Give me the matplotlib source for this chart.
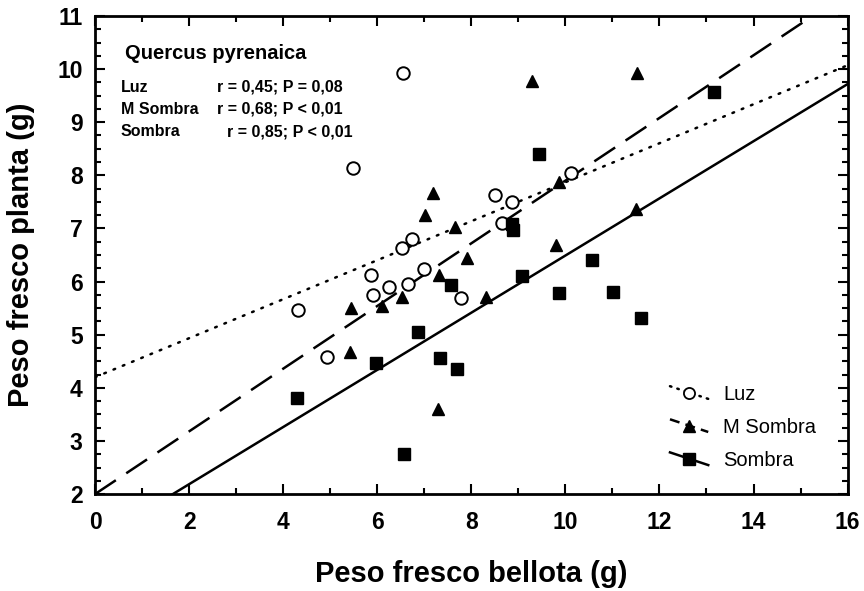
import numpy as np
import matplotlib
matplotlib.use("Agg")
import matplotlib.pyplot as plt
from matplotlib.legend_handler import HandlerLine2D
from matplotlib.ticker import MultipleLocator

plt.rcParams["font.family"] = ["Liberation Sans", "DejaVu Sans"]

# Luz (open circles)
luz_x = [4.31, 4.94, 5.48, 5.87, 5.92, 6.24, 6.52, 6.55, 6.66, 6.73, 7.00, 7.79, 8.50, 8.66, 8.87, 10.13]
luz_y = [5.47, 4.58, 8.14, 6.12, 5.74, 5.90, 6.63, 9.92, 5.95, 6.81, 6.23, 5.69, 7.63, 7.11, 7.49, 8.05]

# M Sombra (filled triangles)
msom_x = [5.42, 5.44, 6.11, 6.52, 7.01, 7.18, 7.30, 7.32, 7.65, 7.90, 8.31, 9.30, 9.80, 9.87, 11.51, 11.53]
msom_y = [4.67, 5.51, 5.54, 5.71, 7.26, 7.67, 3.60, 6.12, 7.03, 6.45, 5.71, 9.78, 6.69, 7.87, 7.36, 9.92]

# Sombra (filled squares)
som_x = [4.29, 5.97, 6.57, 6.86, 7.33, 7.56, 7.69, 8.87, 8.89, 9.08, 9.44, 9.86, 10.57, 11.01, 11.60, 13.16]
som_y = [3.81, 4.46, 2.75, 5.05, 4.56, 5.93, 4.36, 7.09, 6.97, 6.10, 8.40, 5.78, 6.40, 5.81, 5.32, 9.56]

# regression lines: intercept, slope, x range
luz_fit = (4.20, 0.367, 0.0, 16.0)
msom_fit = (2.00, 0.590, 0.0, 15.1)
som_fit = (1.11, 0.538, 0.0, 16.0)

stats_names = ["Luz", "M Sombra", "Sombra"]
stats_text = ["r = 0,45; P = 0,08", "r = 0,68; P < 0,01", "r = 0,85; P < 0,01"]


class SlopedHandler(HandlerLine2D):
    # legend handle drawn as a descending diagonal, like the original
    def create_artists(self, legend, orig_handle, xdescent, ydescent,
                       width, height, fontsize, trans):
        artists = super().create_artists(legend, orig_handle, xdescent, ydescent,
                                         width, height, fontsize, trans)
        for a in artists:
            xd = np.asarray(a.get_xdata(), dtype=float)
            x0, x1 = xd.min(), xd.max()
            frac = (xd - x0) / (x1 - x0) if x1 > x0 else xd * 0
            a.set_ydata(height * 0.95 - frac * height * 0.9 - ydescent)
        return artists


fig = plt.figure(figsize=(8.64, 5.91), dpi=100)
ax = fig.add_axes([0.110, 0.164, 0.871, 0.809])

lw = 1.8


def fit_line(fit, **kw):
    a, b, x0, x1 = fit
    xs = np.array([x0, x1])
    return ax.plot(xs, a + b * xs, color="black", lw=lw, **kw)[0]


fit_line(luz_fit, linestyle=(0, (0.7, 3.3)), dash_capstyle="round")
fit_line(msom_fit, linestyle=(0, (10, 5)))
fit_line(som_fit, linestyle="-")

ax.plot(luz_x, luz_y, "o", ms=9, mfc="white", mec="black", mew=1.4, zorder=3)
ax.plot(msom_x, msom_y, "^", ms=8.5, color="black", zorder=3)
ax.plot(som_x, som_y, "s", ms=8, color="black", zorder=3)

# legend proxies
h1, = ax.plot([], [], color="black", lw=lw, linestyle=(0, (0.6, 2.5)), dash_capstyle="round",
              marker="o", ms=8, mfc="white", mec="black", mew=1.3, label="Luz")
h2, = ax.plot([], [], color="black", lw=lw, linestyle=(0, (4, 2.5)),
              marker="^", ms=8, label="M Sombra")
h3, = ax.plot([], [], color="black", lw=lw, marker="s", ms=8, label="Sombra")
ax.legend(handles=[h1, h2, h3], loc="upper left", bbox_to_anchor=(0.764, 0.229),
          frameon=False, fontsize=14.5, handlelength=1.9, handletextpad=0.75,
          labelspacing=0.7, borderpad=0, borderaxespad=0,
          handler_map={matplotlib.lines.Line2D: SlopedHandler()})

ax.set_xlim(0, 16)
ax.set_ylim(2, 11)
ax.xaxis.set_major_locator(MultipleLocator(2))
ax.xaxis.set_minor_locator(MultipleLocator(1))
ax.yaxis.set_major_locator(MultipleLocator(1))
ax.yaxis.set_minor_locator(MultipleLocator(0.25))
ax.tick_params(which="both", direction="in", top=True, right=True, width=1.5)
ax.tick_params(which="major", length=7)
ax.tick_params(which="minor", length=4)
ax.tick_params(axis="x", which="major", labelsize=16.5, pad=12)
ax.tick_params(axis="y", which="major", labelsize=16.5, pad=9)
for lab in ax.get_xticklabels() + ax.get_yticklabels():
    lab.set_fontweight("bold")
for s in ax.spines.values():
    s.set_linewidth(2)

ax.set_xlabel("Peso fresco bellota (g)", fontsize=21, fontweight="bold", labelpad=19)
ax.set_ylabel("Peso fresco planta (g)", fontsize=21, fontweight="bold", labelpad=16)

ax.text(0.040, 0.922, "Quercus pyrenaica", transform=ax.transAxes, fontsize=14.5,
        fontweight="bold", ha="left", va="center")
row_y = [0.851, 0.805, 0.758]
stat_x = [0.162, 0.162, 0.175]
for name, txt, yy, xx in zip(stats_names, stats_text, row_y, stat_x):
    ax.text(0.0345, yy, name, transform=ax.transAxes, fontsize=11.5,
            fontweight="bold", ha="left", va="center")
    ax.text(xx, yy, txt, transform=ax.transAxes, fontsize=11.5,
            fontweight="bold", ha="left", va="center")

fig.savefig("out.png", dpi=100)
